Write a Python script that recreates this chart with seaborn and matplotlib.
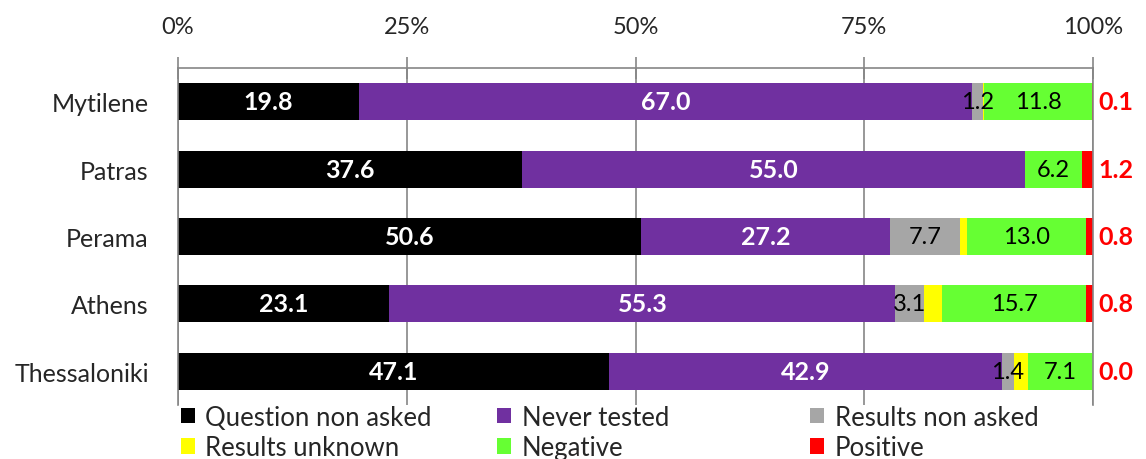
import pandas as pd
import seaborn as sns
import matplotlib
matplotlib.use("Agg")
import matplotlib.pyplot as plt
from matplotlib.patches import Patch

# data (percent of respondents per city)
cities = ["Mytilene", "Patras", "Perama", "Athens", "Thessaloniki"]
question_non_asked = [19.8, 37.6, 50.6, 23.1, 47.1]
never_tested = [67.0, 55.0, 27.2, 55.3, 42.9]
results_non_asked = [1.2, 0.0, 7.7, 3.1, 1.4]
results_unknown = [0.1, 0.0, 0.7, 2.0, 1.5]
negative = [11.8, 6.2, 13.0, 15.7, 7.1]
positive = [0.1, 1.2, 0.8, 0.8, 0.0]

series_names = ["Question non asked", "Never tested", "Results non asked",
                "Results unknown", "Negative", "Positive"]
series_values = [question_non_asked, never_tested, results_non_asked,
                 results_unknown, negative, positive]
series_colors = ["#000000", "#7030A0", "#A6A6A6", "#FFFF00", "#66FF33", "#FF0000"]

# long table with cumulative sums for stacking
rows = []
for name, vals in zip(series_names, series_values):
    for city, v in zip(cities, vals):
        rows.append({"city": city, "series": name, "value": v})
df = pd.DataFrame(rows)
df["cum"] = df.groupby("city", sort=False)["value"].cumsum()

sns.set_style("white")
plt.rcParams["font.family"] = ["Lato", "DejaVu Sans"]

fig = plt.figure(figsize=(11.46, 4.60), dpi=100)
ax = fig.add_axes([0.1553, 0.1174, 0.9538 - 0.1553, 0.85 - 0.1174])

grid_col = "#868686"

# draw cumulative bars from the last series to the first so they overlap into a stack
for name, col in reversed(list(zip(series_names, series_colors))):
    sub = df[df["series"] == name]
    sns.barplot(data=sub, x="cum", y="city", order=cities, color=col,
                saturation=1, width=0.55, linewidth=0, orient="h", ax=ax)

# value labels
for name, col in zip(series_names, series_colors):
    sub = df[df["series"] == name]
    for i, (v, c) in enumerate(zip(sub["value"], sub["cum"])):
        centre = c - v / 2
        if name in ("Question non asked", "Never tested"):
            ax.text(centre, i, f"{v:.1f}", ha="center", va="center",
                    color="white", fontsize=18, fontweight="bold")
        elif name in ("Results non asked", "Negative"):
            if v > 0:
                ax.text(centre, i, f"{v:.1f}", ha="center", va="center",
                        color="black", fontsize=17)
        elif name == "Positive":
            ax.text(100.6, i, f"{v:.1f}", ha="left", va="center",
                    color="#FF0000", fontsize=18, fontweight="bold")

ax.set_xlim(0, 100)
ax.set_ylim(len(cities) - 0.5, -0.5)
ax.set_xticks([0, 25, 50, 75, 100])
ax.set_xticklabels(["0%", "25%", "50%", "75%", "100%"])
ax.xaxis.tick_top()
ax.set_xlabel("")
ax.set_ylabel("")
ax.grid(axis="x", color=grid_col, linewidth=1.2)
ax.grid(axis="y", visible=False)
ax.set_axisbelow(True)

ax.tick_params(axis="x", which="major", direction="inout", length=16, width=1.2,
               color=grid_col, labelsize=17, pad=14)
ax.set_yticks([i - 0.5 for i in range(len(cities) + 1)], minor=True)
ax.tick_params(axis="y", which="major", length=0, labelsize=18, pad=21)
ax.tick_params(axis="y", which="minor", direction="out", length=6, width=1.2,
               color=grid_col)

for side in ["left", "top", "right"]:
    ax.spines[side].set_visible(True)
    ax.spines[side].set_color(grid_col)
    ax.spines[side].set_linewidth(1.2)
ax.spines["bottom"].set_visible(False)

# legend in three fixed-width columns
handles = [Patch(facecolor=c, edgecolor="none") for c in series_colors]
columns = [(0, 3, 0.158), (1, 4, 0.434), (2, 5, 0.707)]
for a, b, x0 in columns:
    fig.legend([handles[a], handles[b]], [series_names[a], series_names[b]],
               loc="upper left", bbox_to_anchor=(x0, 0.118), frameon=False,
               fontsize=18.5, handlelength=0.55, handleheight=0.55,
               handletextpad=0.4, labelspacing=0.2, borderpad=0,
               borderaxespad=0)

fig.savefig("out.png", dpi=100)
